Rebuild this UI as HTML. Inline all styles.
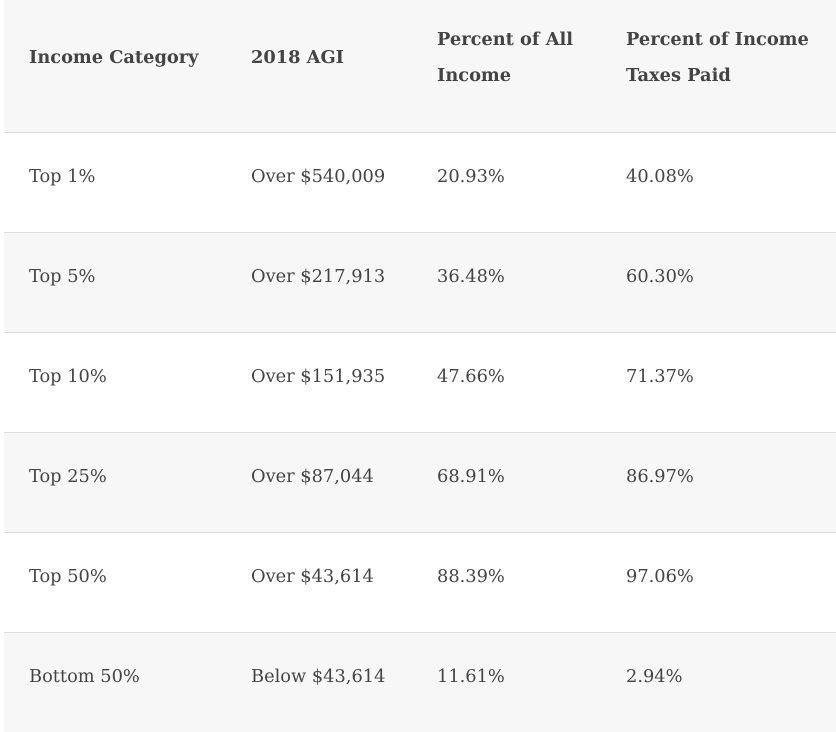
<!DOCTYPE html>
<html><head><meta charset="utf-8"><style>
body{margin:0;width:836px;height:732px;background:#fff;font-family:"DejaVu Serif","Liberation Serif",serif;color:#444;overflow:hidden;position:relative}
.row{position:absolute;left:4px;width:832px;border-top:1px solid #ddd;box-sizing:border-box}
.g{background:#f7f7f7}
.c{position:absolute;font-size:17.8px;line-height:36px}
.h .c{font-weight:bold}
</style></head><body>
<div class="row g h" style="top:0;height:132px;border-top:none">
<div class="c" style="left:25px;top:40px">Income Category</div>
<div class="c" style="left:247px;top:40px">2018 AGI</div>
<div class="c" style="left:433px;top:22px">Percent of All<br>Income</div>
<div class="c" style="left:622px;top:22px">Percent of Income<br>Taxes Paid</div>
</div>
<div id="rows"></div>
<script>
const categories=["Top 1%","Top 5%","Top 10%","Top 25%","Top 50%","Bottom 50%"];
const agi=["Over $540,009","Over $217,913","Over $151,935","Over $87,044","Over $43,614","Below $43,614"];
const incomeShare=["20.93%","36.48%","47.66%","68.91%","88.39%","11.61%"];
const taxShare=["40.08%","60.30%","71.37%","86.97%","97.06%","2.94%"];
const lefts=[25,247,433,622];
const host=document.getElementById('rows');
categories.forEach((cat,i)=>{
  const r=document.createElement('div');
  r.className='row'+(i%2?' g':'');
  r.style.top=(132+i*100)+'px';r.style.height='100px';
  
  
  [cat,agi[i],incomeShare[i],taxShare[i]].forEach((t,j)=>{
    const c=document.createElement('div');
    c.className='c';c.style.left=lefts[j]+'px';c.style.top='26px';c.textContent=t;
    
    
    r.appendChild(c);
  });
  host.appendChild(r);
});
</script>
</body></html>
